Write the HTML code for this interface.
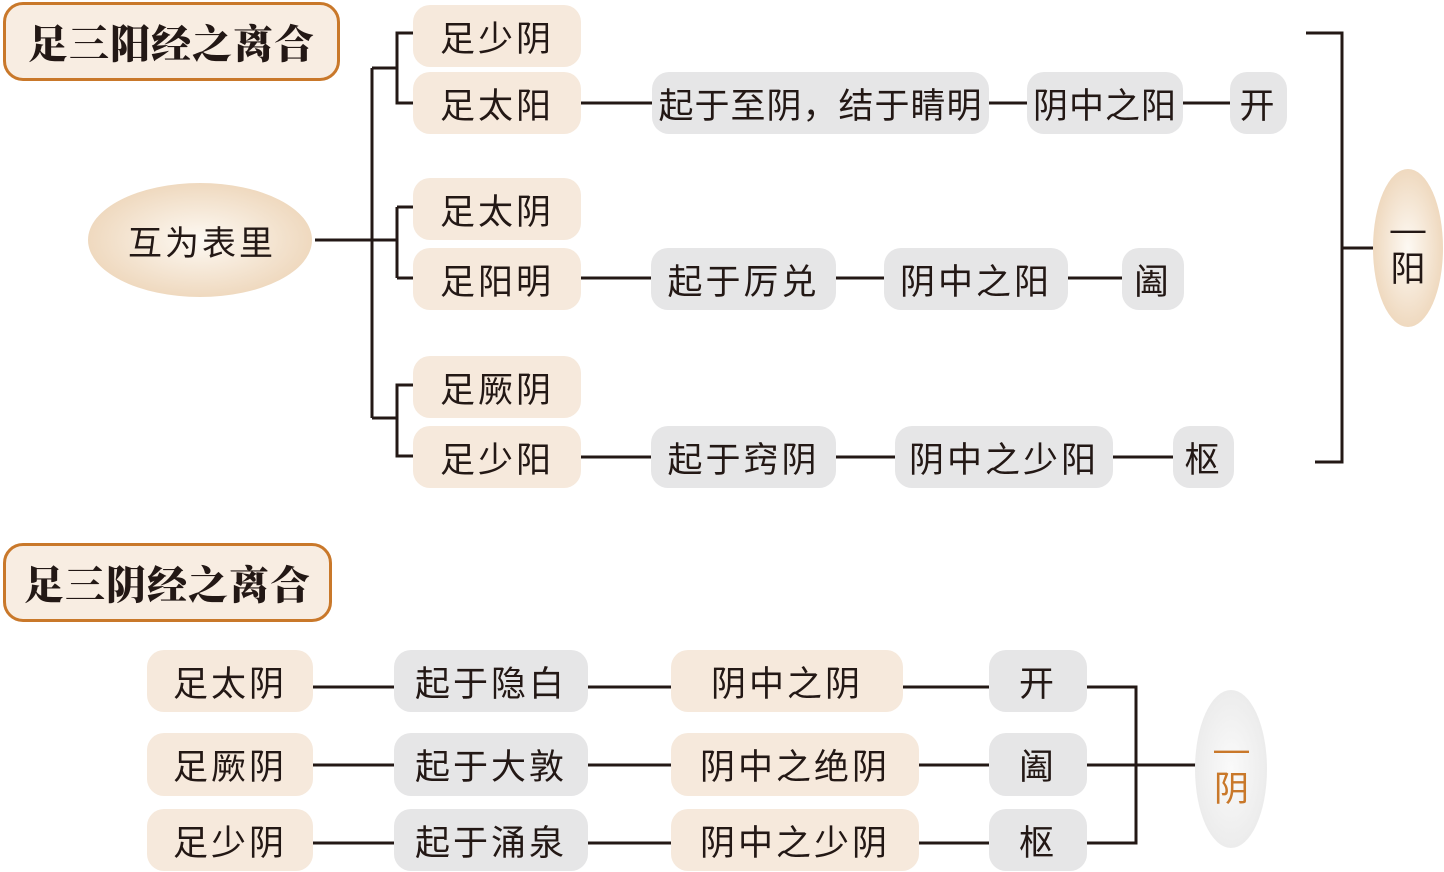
<!DOCTYPE html>
<html><head><meta charset="utf-8"><style>
body{margin:0;width:1444px;height:872px;background:#fff;position:relative;overflow:hidden;font-family:"Liberation Sans","Noto Sans CJK SC",sans-serif;color:#231815}
.b{position:absolute;display:flex;align-items:center;justify-content:center;font-size:35px;border-radius:17px;letter-spacing:3px;white-space:nowrap}
.o{background:#f6e9dc}
.g{background:#e6e6e7}
.t{position:absolute;border:3px solid #c9782a;border-radius:20px;background:#f8ede2;display:flex;align-items:center;justify-content:center;font-family:"Noto Serif CJK SC",serif;font-weight:900;font-size:40px;box-sizing:border-box;letter-spacing:1px}
svg{position:absolute;left:0;top:0}
</style></head><body>
<svg width="1444" height="872"><g stroke="#231815" stroke-width="3" fill="none">
<path d="M315 240H397M372 68V418M372 68H397M372 418H397M397 207V278M413 33H397V103H413M413 207H397M397 278H413M413 385H397V456H413"/>
<path d="M581 103H652M989 103H1027M1183 103H1230"/>
<path d="M581 278H651M836 278H884M1068 278H1122"/>
<path d="M581 457H651M836 457H895M1113 457H1173"/>
<path d="M1306 33H1342V462H1315M1342 248H1373"/>
<path d="M313 687H394M588 687H671M903 687H989M1087 687H1136V843H1087M313 765H394M588 765H671M919 765H1196M313 843H394M588 843H671M919 843H989"/>
</g>
<defs><radialGradient id="eg"><stop offset="0" stop-color="#fdf9f3"/><stop offset="1" stop-color="#efd9bf"/></radialGradient>
<radialGradient id="gg"><stop offset="0" stop-color="#fafafa"/><stop offset="1" stop-color="#ececec"/></radialGradient></defs>
<ellipse cx="200" cy="240" rx="112" ry="57" fill="url(#eg)"/>
<ellipse cx="1408" cy="248" rx="35" ry="79" fill="url(#eg)"/>
<ellipse cx="1231" cy="769" rx="36" ry="79" fill="url(#gg)"/>
</svg>
<div class="t" style="left:3px;top:2px;width:337px;height:79px">足三阳经之离合</div>
<div class="b" style="left:90px;top:210px;width:224px;height:60px;font-size:34px">互为表里</div>
<div class="b o" style="left:413px;top:5px;width:168px;height:62px">足少阴</div>
<div class="b o" style="left:413px;top:72px;width:168px;height:62px">足太阳</div>
<div class="b o" style="left:413px;top:178px;width:168px;height:62px">足太阴</div>
<div class="b o" style="left:413px;top:248px;width:168px;height:62px">足阳明</div>
<div class="b o" style="left:413px;top:356px;width:168px;height:62px">足厥阴</div>
<div class="b o" style="left:413px;top:426px;width:168px;height:62px">足少阳</div>
<div class="b g" style="left:652px;top:72px;width:337px;height:62px;letter-spacing:1px">起于至阴，结于睛明</div>
<div class="b g" style="left:1027px;top:72px;width:156px;height:62px;letter-spacing:1px">阴中之阳</div>
<div class="b g" style="left:1230px;top:72px;width:57px;height:62px">开</div>
<div class="b g" style="left:651px;top:248px;width:185px;height:62px">起于厉兑</div>
<div class="b g" style="left:884px;top:248px;width:184px;height:62px">阴中之阳</div>
<div class="b g" style="left:1122px;top:248px;width:62px;height:62px">阖</div>
<div class="b g" style="left:651px;top:426px;width:185px;height:62px">起于窍阴</div>
<div class="b g" style="left:895px;top:426px;width:218px;height:62px">阴中之少阳</div>
<div class="b g" style="left:1173px;top:426px;width:61px;height:62px">枢</div>
<div class="b" style="left:1373px;top:200px;width:70px;height:100px;flex-direction:column;line-height:40px;letter-spacing:0">—<br>阳</div>
<div class="t" style="left:3px;top:543px;width:329px;height:79px">足三阴经之离合</div>
<div class="b o" style="left:147px;top:650px;width:166px;height:62px">足太阴</div>
<div class="b g" style="left:394px;top:650px;width:194px;height:62px">起于隐白</div>
<div class="b o" style="left:671px;top:650px;width:232px;height:62px">阴中之阴</div>
<div class="b g" style="left:989px;top:650px;width:98px;height:62px">开</div>
<div class="b o" style="left:147px;top:733px;width:166px;height:63px">足厥阴</div>
<div class="b g" style="left:394px;top:733px;width:194px;height:63px">起于大敦</div>
<div class="b o" style="left:671px;top:733px;width:248px;height:63px">阴中之绝阴</div>
<div class="b g" style="left:989px;top:733px;width:98px;height:63px">阖</div>
<div class="b o" style="left:147px;top:809px;width:166px;height:62px">足少阴</div>
<div class="b g" style="left:394px;top:809px;width:194px;height:62px">起于涌泉</div>
<div class="b o" style="left:671px;top:809px;width:248px;height:62px">阴中之少阴</div>
<div class="b g" style="left:989px;top:809px;width:98px;height:62px">枢</div>
<div class="b" style="left:1196px;top:720px;width:71px;height:100px;flex-direction:column;line-height:40px;letter-spacing:0;color:#c9782a">—<br>阴</div>
</body></html>
